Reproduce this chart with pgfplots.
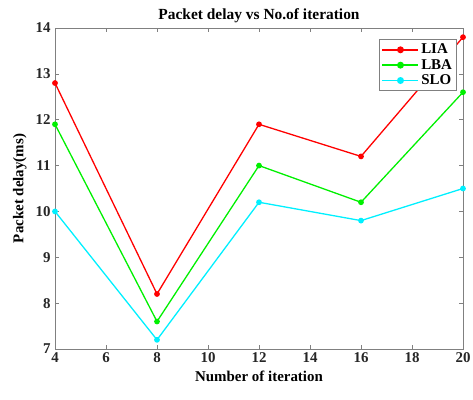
\documentclass[border=0pt]{standalone}
\usepackage{pgfplots}
\pgfplotsset{compat=1.18}
\usepackage{fontspec}
\setmainfont{Liberation Serif}
\definecolor{axgray}{RGB}{128,128,128}
\definecolor{txt}{RGB}{38,38,38}
\definecolor{lia}{RGB}{255,0,0}
\definecolor{lba}{RGB}{0,240,0}
\definecolor{slo}{RGB}{0,240,255}
\begin{document}
\begin{tikzpicture}[x=1bp,y=1bp]
\useasboundingbox (-55,-50) rectangle (418,349);
\begin{axis}[
  at={(0,0)}, anchor=south west,
  scale only axis, width=408bp, height=321bp,
  xmin=4, xmax=20, ymin=7, ymax=14,
  xtick={4,6,...,20}, ytick={7,8,...,14},
  tick align=inside,
  major tick length=4bp,
  axis line style={axgray, line width=0.9pt},
  every tick/.style={axgray, line width=0.7pt},
  tick label style={font=\fontsize{15}{17}\selectfont\bfseries, text=txt},
  /pgf/number format/assume math mode=true,
  xticklabel style={yshift=0bp},
  yticklabel style={xshift=-1bp},
  title={\fontsize{15.5}{17}\selectfont\bfseries Packet delay vs No.of iteration},
  title style={yshift=-4bp},
  xlabel={\fontsize{15}{17}\selectfont\bfseries Number of iteration},
  ylabel={\fontsize{15}{17}\selectfont\bfseries Packet delay(ms)},
  xlabel style={yshift=-2bp},
  ylabel style={yshift=2bp},
  legend style={at={(0.985,0.965)}, anchor=north east, draw=axgray, line width=0.8pt,
    font=\fontsize{15}{17}\selectfont\bfseries, row sep=0bp, inner sep=2.5bp},
  legend cell align=left,
  legend image code/.code={\draw[#1, line width=1.6pt] (0bp,0bp) -- (36bp,0bp); \fill[#1] (18bp,0bp) circle (2.8bp);},
  every axis plot/.append style={line width=1.3pt, mark=*, mark size=2.2bp},
]
\addplot[lia, mark options={fill=lia}] coordinates {(4,12.8) (8,8.2) (12,11.9) (16,11.2) (20,13.8)};
\addlegendentry{LIA}
\addplot[lba, mark options={fill=lba}] coordinates {(4,11.9) (8,7.6) (12,11.0) (16,10.2) (20,12.6)};
\addlegendentry{LBA}
\addplot[slo, mark options={fill=slo}] coordinates {(4,10.0) (8,7.2) (12,10.2) (16,9.8) (20,10.5)};
\addlegendentry{SLO}
\end{axis}
\end{tikzpicture}
\end{document}
